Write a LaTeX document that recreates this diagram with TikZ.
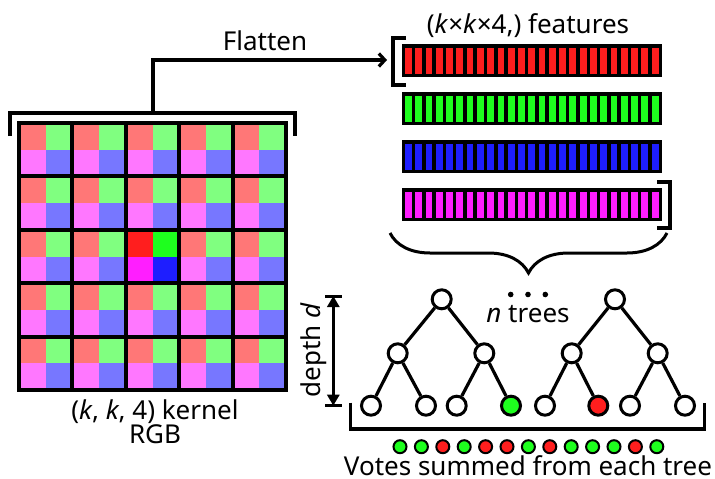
\documentclass[tikz,border=0pt]{standalone}
\usepackage{fontspec}
\setmainfont{Noto Sans}
\usetikzlibrary{arrows.meta,decorations.pathreplacing}
\definecolor{fr}{RGB}{255,119,119}
\definecolor{fg}{RGB}{128,255,128}
\definecolor{fm}{RGB}{255,119,255}
\definecolor{fb}{RGB}{119,119,255}
\definecolor{br}{RGB}{255,30,30}
\definecolor{bg}{RGB}{30,255,30}
\definecolor{bm}{RGB}{255,30,255}
\definecolor{bb}{RGB}{30,30,255}
\tikzset{
  lbl/.style={font=\fontsize{26}{31}\selectfont, inner sep=0pt, anchor=base},
  tnode/.style={circle, draw=black, line width=3pt, fill=white, minimum size=19pt, inner sep=0pt},
  vote/.style={circle, draw=black, line width=2pt, minimum size=13pt, inner sep=0pt},
  tedge/.style={line width=3.2pt},
  brk/.style={line width=3.4pt},
}
\begin{document}
\begin{tikzpicture}[x=1pt,y=-1pt]
\useasboundingbox (0,0) rectangle (715,479);
% ---- kernel grid ----
\def\cs{53.4}
\foreach \i in {0,...,4}{
  \foreach \j in {0,...,4}{
    \pgfmathsetmacro{\X}{19+\cs*\i}
    \pgfmathsetmacro{\Y}{123+\cs*\j}
    \ifnum\i=2 \ifnum\j=2
      \def\cA{br}\def\cB{bg}\def\cC{bm}\def\cD{bb}
    \else
      \def\cA{fr}\def\cB{fg}\def\cC{fm}\def\cD{fb}
    \fi\else
      \def\cA{fr}\def\cB{fg}\def\cC{fm}\def\cD{fb}
    \fi
    \fill[\cA] (\X,\Y) rectangle ++(\cs/2,\cs/2);
    \fill[\cB] (\X+\cs/2,\Y) rectangle ++(\cs/2,\cs/2);
    \fill[\cC] (\X,\Y+\cs/2) rectangle ++(\cs/2,\cs/2);
    \fill[\cD] (\X+\cs/2,\Y+\cs/2) rectangle ++(\cs/2,\cs/2);
  }
}
\foreach \k in {1,...,4}{
  \draw[line width=4pt] (19+\cs*\k,123) -- (19+\cs*\k,390);
  \draw[line width=4pt] (19,123+\cs*\k) -- (286,123+\cs*\k);
}
\draw[line width=4.2pt] (19,123) rectangle (286,390);
\node[draw=none, inner sep=0pt, minimum width=267pt, minimum height=267pt] (grid) at (152.5,256.5) {};
% bracket above grid and flatten arrow
\coordinate (gb) at (153,113);
\coordinate (fc) at (153,60);
\coordinate (fe) at (387,60);
\draw[brk] (10,136) -- (10,113) -- (295,113) -- (295,136);
\draw[line width=3.2pt, -{Straight Barb[length=6pt,width=13pt,line width=3.2pt]}] (gb) -- (fc) -- (fe);
\node[lbl] (flat) at (265,50.5) {Flatten};
% labels under grid
\node[lbl] (kern) at (155,419) {(\textit{k}, \textit{k}, 4) kernel};
\node[lbl] (rgb) at (155,443) {RGB};
% ---- feature bars ----
\node[lbl] (feat) at (528,33) {(\textit{k}×\textit{k}×4,) features};
\foreach \c/\y [count=\n] in {br/44, bg/92, bb/140, bm/188}{
  \fill[black] (401.5,\y) rectangle (662,\y+33);
  \foreach \s in {0,...,24}{
    \fill[\c] (405+10.28*\s,\y+3.5) rectangle ++(6.8,26);
  }
  \node[inner sep=0pt, minimum width=260.5pt, minimum height=33pt] (bar\n) at (531.75,\y+16.5) {};
}
\draw[brk] (406,38) -- (393,38) -- (393,85) -- (406,85);
\draw[brk] (657,182) -- (670,182) -- (670,228) -- (657,228);
% brace
\coordinate (brA) at (667,233);
\coordinate (brB) at (390,233);
\draw[line width=3pt, decorate, decoration={brace, amplitude=40pt}] (brA) -- (brB);
% ---- trees ----
\node[tnode] (r1) at (441.7,299.3) {};
\node[tnode] (a1) at (397.7,353.3) {};
\node[tnode] (b1) at (484.3,353.3) {};
\node[tnode] (l11) at (371,405.7) {};
\node[tnode] (l12) at (426,405.7) {};
\node[tnode] (l13) at (456.7,405.7) {};
\node[tnode, fill=bg] (l14) at (511,405.7) {};
\node[tnode] (r2) at (615,299.3) {};
\node[tnode] (a2) at (571.7,353.3) {};
\node[tnode] (b2) at (657.7,353.3) {};
\node[tnode] (l21) at (545,405.7) {};
\node[tnode, fill=br] (l22) at (598.3,405.7) {};
\node[tnode] (l23) at (630,405.7) {};
\node[tnode] (l24) at (685,405.7) {};
\foreach \p/\q in {r1/a1, r1/b1, a1/l11, a1/l12, b1/l13, b1/l14, r2/a2, r2/b2, a2/l21, a2/l22, b2/l23, b2/l24}{
  \draw[tedge] (\p) -- (\q);
}
\foreach \x [count=\n] in {510.7,528,545.3}{
  \fill (\x,294.5) circle (2.8pt);
  \coordinate (dot\n) at (\x,294.5);
}
\node[lbl] (ntr) at (528,322.5) {\textit{n} trees};
% depth arrow
\coordinate (dt) at (333.3,296);
\coordinate (db) at (333.3,405.7);
\draw[line width=3pt] (325,296) -- (342,296);
\draw[line width=3pt] (325,405.7) -- (342,405.7);
\draw[line width=2.8pt, {Triangle[length=11pt,width=12pt]}-{Triangle[length=11pt,width=12pt]}] (dt) -- (db);
\node[lbl, rotate=90] (dep) at (320,350) {depth \textit{d}};
% bottom bracket
\draw[brk] (350.7,402.7) -- (350.7,429) -- (704.3,429) -- (704.3,402.7);
% votes
\foreach \c [count=\n from 0] in {bg,bg,br,bg,br,br,bg,br,bg,bg,bg,br,bg}{
  \node[vote, fill=\c] (v\n) at (400+21.4*\n,446.7) {};
}
\node[lbl] (votes) at (528,475) {Votes summed from each tree};
\end{tikzpicture}
\end{document}
